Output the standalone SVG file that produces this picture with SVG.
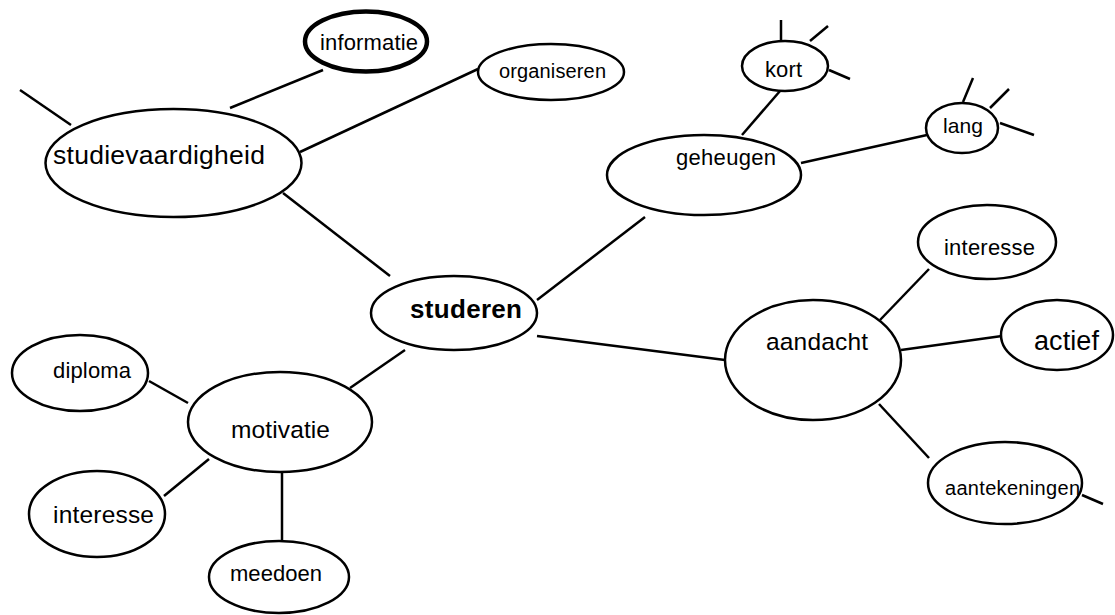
<svg xmlns="http://www.w3.org/2000/svg" width="1115" height="615" viewBox="0 0 1115 615">
<style>
.n{fill:#fff;stroke:#000;stroke-width:2.5}
.thick{stroke-width:4.5}
.c line{stroke:#000;stroke-width:2.5;stroke-linecap:butt}
text{font-family:"Liberation Sans",Arial,sans-serif;fill:#000}
.b{font-weight:bold}
</style>
<rect width="1115" height="615" fill="#fff"/>
<g id="connectors" class="c">
<line x1="20" y1="90" x2="71" y2="125"/>
<line x1="230" y1="108" x2="323" y2="70"/>
<line x1="300" y1="152" x2="478" y2="69"/>
<line x1="283" y1="193" x2="390" y2="276"/>
<line x1="537" y1="300" x2="645" y2="217"/>
<line x1="742" y1="135" x2="780" y2="91"/>
<line x1="781" y1="20" x2="781" y2="41"/>
<line x1="810" y1="41" x2="828" y2="26"/>
<line x1="829" y1="70" x2="850" y2="79"/>
<line x1="801" y1="163" x2="927" y2="135"/>
<line x1="963" y1="102" x2="973" y2="78"/>
<line x1="990" y1="108" x2="1009" y2="89"/>
<line x1="1000" y1="123" x2="1034" y2="135"/>
<line x1="537" y1="336" x2="725" y2="360"/>
<line x1="880" y1="320" x2="929" y2="269"/>
<line x1="901" y1="350" x2="1002" y2="336"/>
<line x1="879" y1="404" x2="929" y2="458"/>
<line x1="1082" y1="495" x2="1103" y2="504"/>
<line x1="405" y1="350" x2="350" y2="388"/>
<line x1="149" y1="381" x2="188" y2="403"/>
<line x1="209" y1="459" x2="164" y2="496"/>
<line x1="282" y1="472" x2="282" y2="542"/>
</g>
<g id="studievaardigheid"><ellipse class="n" cx="173.5" cy="163" rx="128" ry="54"/><text x="53" y="164" font-size="26.5" textLength="212">studievaardigheid</text></g>
<g id="informatie"><ellipse class="n thick" cx="366" cy="41.5" rx="61" ry="30"/><text x="320" y="50" font-size="22" textLength="98">informatie</text></g>
<g id="organiseren"><ellipse class="n" cx="551" cy="72" rx="73" ry="28"/><text x="499" y="78" font-size="20" textLength="107">organiseren</text></g>
<g id="studeren"><ellipse class="n" cx="454" cy="313" rx="83" ry="37"/><text class="b" x="410" y="318" font-size="26" textLength="112">studeren</text></g>
<g id="geheugen"><ellipse class="n" cx="704" cy="175" rx="97" ry="40"/><text x="676" y="165" font-size="22" textLength="100">geheugen</text></g>
<g id="kort"><ellipse class="n" cx="785" cy="66" rx="43" ry="25"/><text x="765" y="77" font-size="22" textLength="37">kort</text></g>
<g id="lang"><ellipse class="n" cx="962" cy="128" rx="36" ry="25"/><text x="943" y="133" font-size="21" textLength="40">lang</text></g>
<g id="aandacht"><ellipse class="n" cx="813" cy="360" rx="88" ry="60"/><text x="766" y="350" font-size="24.5" textLength="102">aandacht</text></g>
<g id="interesse-r"><ellipse class="n" cx="987" cy="242" rx="69" ry="37"/><text x="944" y="255" font-size="22" textLength="91">interesse</text></g>
<g id="actief"><ellipse class="n" cx="1057" cy="335" rx="56" ry="35"/><text x="1034" y="350" font-size="27" textLength="65">actief</text></g>
<g id="aantekeningen"><ellipse class="n" cx="1005" cy="483" rx="77" ry="41"/><text x="945" y="495" font-size="20" textLength="135">aantekeningen</text></g>
<g id="motivatie"><ellipse class="n" cx="280" cy="422" rx="92" ry="50"/><text x="231" y="438" font-size="24.5" textLength="99">motivatie</text></g>
<g id="diploma"><ellipse class="n" cx="80" cy="373" rx="68" ry="38"/><text x="53" y="378" font-size="22" textLength="78">diploma</text></g>
<g id="interesse-l"><ellipse class="n" cx="97" cy="514" rx="68" ry="43"/><text x="53" y="523" font-size="24.5" textLength="101">interesse</text></g>
<g id="meedoen"><ellipse class="n" cx="279" cy="577" rx="70" ry="36"/><text x="230" y="581" font-size="22" textLength="92">meedoen</text></g>
</svg>
